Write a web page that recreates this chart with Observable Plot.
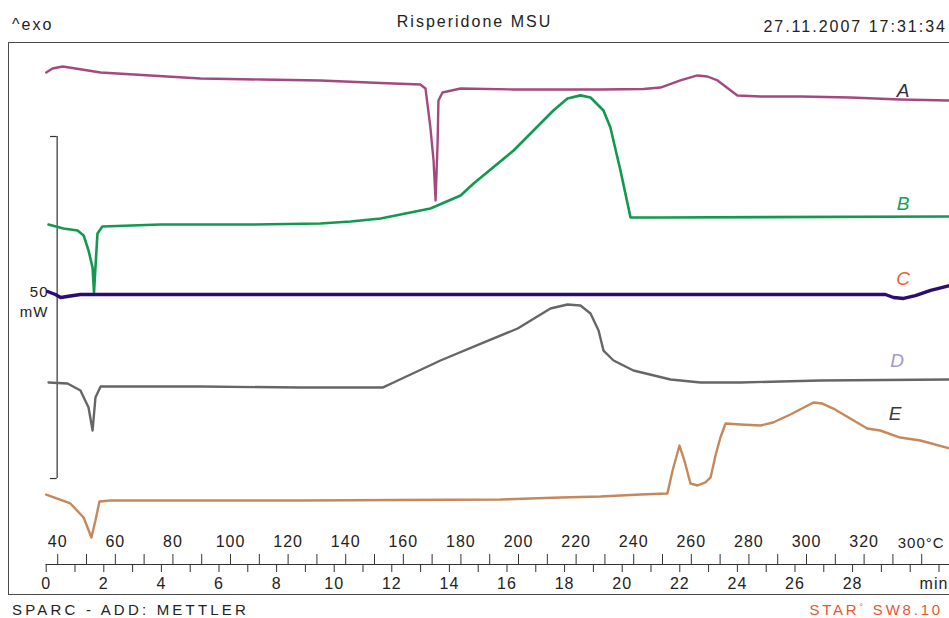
<!DOCTYPE html>
<html><head><meta charset="utf-8">
<script src="https://cdn.jsdelivr.net/npm/d3@7"></script>
<script src="https://cdn.jsdelivr.net/npm/@observablehq/plot@0.6"></script>
<style>
html,body{margin:0;padding:0;background:#fff;}
#wrap{position:relative;width:949px;height:618px;overflow:hidden;font-family:"Liberation Sans",Arial,sans-serif;color:#222;}
#chart{position:absolute;left:0;top:0;}
.t{position:absolute;font-size:16px;letter-spacing:2px;white-space:nowrap;line-height:1;}
.f{font-size:15px;letter-spacing:3.2px;}
</style></head><body>
<div id="wrap">
<div id="chart"></div>
<div class="t" style="left:12px;top:16.5px">^exo</div>
<div class="t" style="left:0;width:949px;text-align:center;top:13.5px">Risperidone MSU</div>
<div class="t" style="right:2px;top:18.5px">27.11.2007 17:31:34</div>
<div class="t f" style="left:12px;top:601.5px">SPARC - ADD: METTLER</div>
<div class="t f" style="right:6px;top:601.5px;color:#e8582e;letter-spacing:2.8px">STAR<span style="font-size:9px;vertical-align:5px">°</span> SW8.10</div>
</div>
<script>
// ---- data (time in min, heat flow in mW, scale bar runs 0..50 mW) ----
const curveA = [[0,59.36],[0.22,59.94],[0.57,60.23],[1.02,59.94],[1.89,59.36],[3.62,58.92],[5.36,58.48],[7.44,58.33],[9.52,58.19],[11.61,57.82],[12.99,57.60],[13.17,57.02],[13.34,51.32],[13.45,46.49],[13.52,40.64],[13.59,48.98],[13.62,55.26],[13.76,56.43],[14.39,57.02],[16.23,56.87],[19.25,56.87],[20.74,56.95],[21.33,57.16],[22.02,58.19],[22.61,58.92],[22.96,58.77],[23.31,58.19],[24.00,55.99],[24.80,55.85],[26.19,55.85],[27.92,55.70],[29.65,55.41],[31.37,55.26]];
const curveB = [[0.08,37.13],[0.60,36.55],[1.09,36.26],[1.30,35.53],[1.47,33.33],[1.61,30.85],[1.66,27.19],[1.71,30.85],[1.78,35.82],[1.95,36.84],[3.97,37.13],[7.09,37.13],[9.52,37.28],[10.57,37.57],[11.61,38.01],[13.34,39.47],[14.39,41.37],[14.84,43.13],[16.23,47.95],[17.61,53.80],[18.10,55.56],[18.55,56.01],[18.90,55.70],[19.35,53.80],[19.59,51.32],[19.94,45.03],[20.29,38.16],[21.33,38.16],[31.37,38.30]];
const curveC = [[0.05,27.34],[0.32,26.90],[0.50,26.46],[0.95,26.75],[1.19,26.90],[8.83,26.90],[19.25,26.90],[29.14,26.90],[29.42,26.46],[29.77,26.32],[30.18,26.75],[30.71,27.49],[31.37,28.22]];
const curveD = [[0.08,14.04],[0.74,13.89],[1.19,12.87],[1.47,10.38],[1.61,7.02],[1.71,11.84],[1.89,13.45],[2.58,13.45],[5.36,13.45],[8.83,13.30],[11.68,13.30],[12.06,14.04],[13.69,17.25],[15.18,19.88],[16.37,21.93],[17.51,24.85],[18.10,25.44],[18.55,25.29],[18.90,24.12],[19.18,21.64],[19.35,18.71],[19.70,17.25],[20.39,15.79],[21.68,14.47],[22.72,14.04],[24.11,14.04],[25.50,14.18],[26.88,14.33],[31.37,14.47]];
const curveE = [[0,-2.34],[0.84,-3.65],[1.30,-5.70],[1.57,-8.63],[1.71,-6.14],[1.85,-3.36],[2.23,-3.22],[8.83,-3.22],[15.77,-3.07],[17.86,-2.78],[19.25,-2.63],[20.64,-2.34],[21.57,-2.19],[21.75,1.17],[21.99,4.82],[22.16,2.63],[22.37,-0.73],[22.62,-1.02],[22.89,-0.58],[23.07,0.15],[23.24,3.36],[23.41,5.99],[23.59,8.04],[24.11,7.89],[24.80,7.75],[25.24,8.19],[25.84,9.36],[26.64,11.11],[26.95,10.96],[27.33,10.23],[27.92,8.77],[28.51,7.31],[28.96,7.02],[29.65,5.99],[30.35,5.56],[31.37,4.39]];
const curveNames = ["A","B","C","D","E"];
const labelT = [29.77,29.77,29.77,29.56,29.49];
const labelV = [56.73,40.2,29.24,17.25,9.5];
const timeTicks = d3.range(0,32);
const timeLabels = [0,2,4,6,8,10,12,14,16,18,20,22,24,26,28];
const timeUnit = "min", timeUnitAt = 31;
const tempTicks = d3.range(40,341,10);
const tempLabels = [40,60,80,100,120,140,160,180,200,220,240,260,280,300,320];
const tempLastValue = 340, tempLastText = "300°C";
const tempAtZero = 36, heatingRate = 10; // °C at t=0, K/min
const scaleBarMin = 0, scaleBarMax = 50, scaleBarT = 0.38, scaleBarTickT = 0.15;
const scaleText = ["50","mW"], scaleTextV = [27.19,24.27];
const xMin = -1.309, xMax = 31.365, yMin = -12.57, yMax = 63.74;

const colors = {A:"#a4497f",B:"#12994f",C:"#2d0b73",D:"#666666",E:"#c6875a"};
const labelColors = {A:"#2c2c3e",B:"#13a058",C:"#f2603c",D:"#a596d6",E:"#3a3a3a"};
const tempToTime = T => (T - tempAtZero) / heatingRate;
const labels = curveNames.map((n,i)=>({name:n,t:labelT[i],v:labelV[i]}));

const lineOpts = (c,w) => ({x:d=>d[0], y:d=>d[1], stroke:c, strokeWidth:w, strokeLinejoin:"round", strokeLinecap:"round"});

const chart = Plot.plot({
  width:949, height:618,
  marginLeft:8, marginRight:0, marginTop:42, marginBottom:54,
  x:{domain:[xMin,xMax], axis:null, label:null},
  y:{domain:[yMin,yMax], axis:null, label:null},
  style:{fontFamily:"'Liberation Sans', Arial, sans-serif", fontSize:"16px", color:"#222", background:"transparent", letterSpacing:"1px", overflow:"visible"},
  marks:[
    Plot.frame({stroke:"#4a4a4a", insetBottom:-30, insetRight:-10}),
    Plot.ruleY([yMin], {x1:0, x2:xMax, stroke:"#333"}),
    Plot.axisX(timeTicks, {anchor:"bottom", tickSize:8, tickPadding:5, stroke:"#333", label:null,
      tickFormat:d => timeLabels.includes(d) ? String(d) : ""}),
    Plot.text([timeUnitAt], {x:d=>d, text:()=>timeUnit, frameAnchor:"bottom", lineAnchor:"top", dy:13, dx:-5, fill:"#222"}),
    Plot.axisX(tempTicks.map(tempToTime), {anchor:"bottom", tickSize:-10, stroke:"#333", label:null, tickFormat:()=>""}),
    Plot.text(tempLabels, {x:tempToTime, text:d=>String(d), frameAnchor:"bottom", lineAnchor:"middle", dy:-23, fill:"#222"}),
    Plot.text([tempLastValue], {x:tempToTime, text:()=>tempLastText, frameAnchor:"bottom", lineAnchor:"middle", textAnchor:"start", dx:-24, dy:-21, fill:"#222", fontSize:15}),
    Plot.ruleX([scaleBarT], {y1:scaleBarMin, y2:scaleBarMax, stroke:"#333", strokeWidth:1.2}),
    Plot.ruleY([scaleBarMin, scaleBarMax], {x1:scaleBarTickT, x2:scaleBarT, stroke:"#333", strokeWidth:1.2}),
    Plot.text(scaleText, {x:0.08, y:(d,i)=>scaleTextV[i], text:d=>d, textAnchor:"end", fontSize:15, fill:"#222"}),
    Plot.line(curveE, lineOpts(colors.E,2.4)),
    Plot.line(curveD, lineOpts(colors.D,2.4)),
    Plot.line(curveB, lineOpts(colors.B,2.6)),
    Plot.line(curveC, lineOpts(colors.C,3.4)),
    Plot.line(curveA, lineOpts(colors.A,2.4)),
    ...labels.map(l => Plot.text([l], {x:"t", y:"v", text:"name", fill:labelColors[l.name], fontStyle:"italic", fontSize:19}))
  ]
});
document.getElementById("chart").appendChild(chart);
</script>
</body></html>
